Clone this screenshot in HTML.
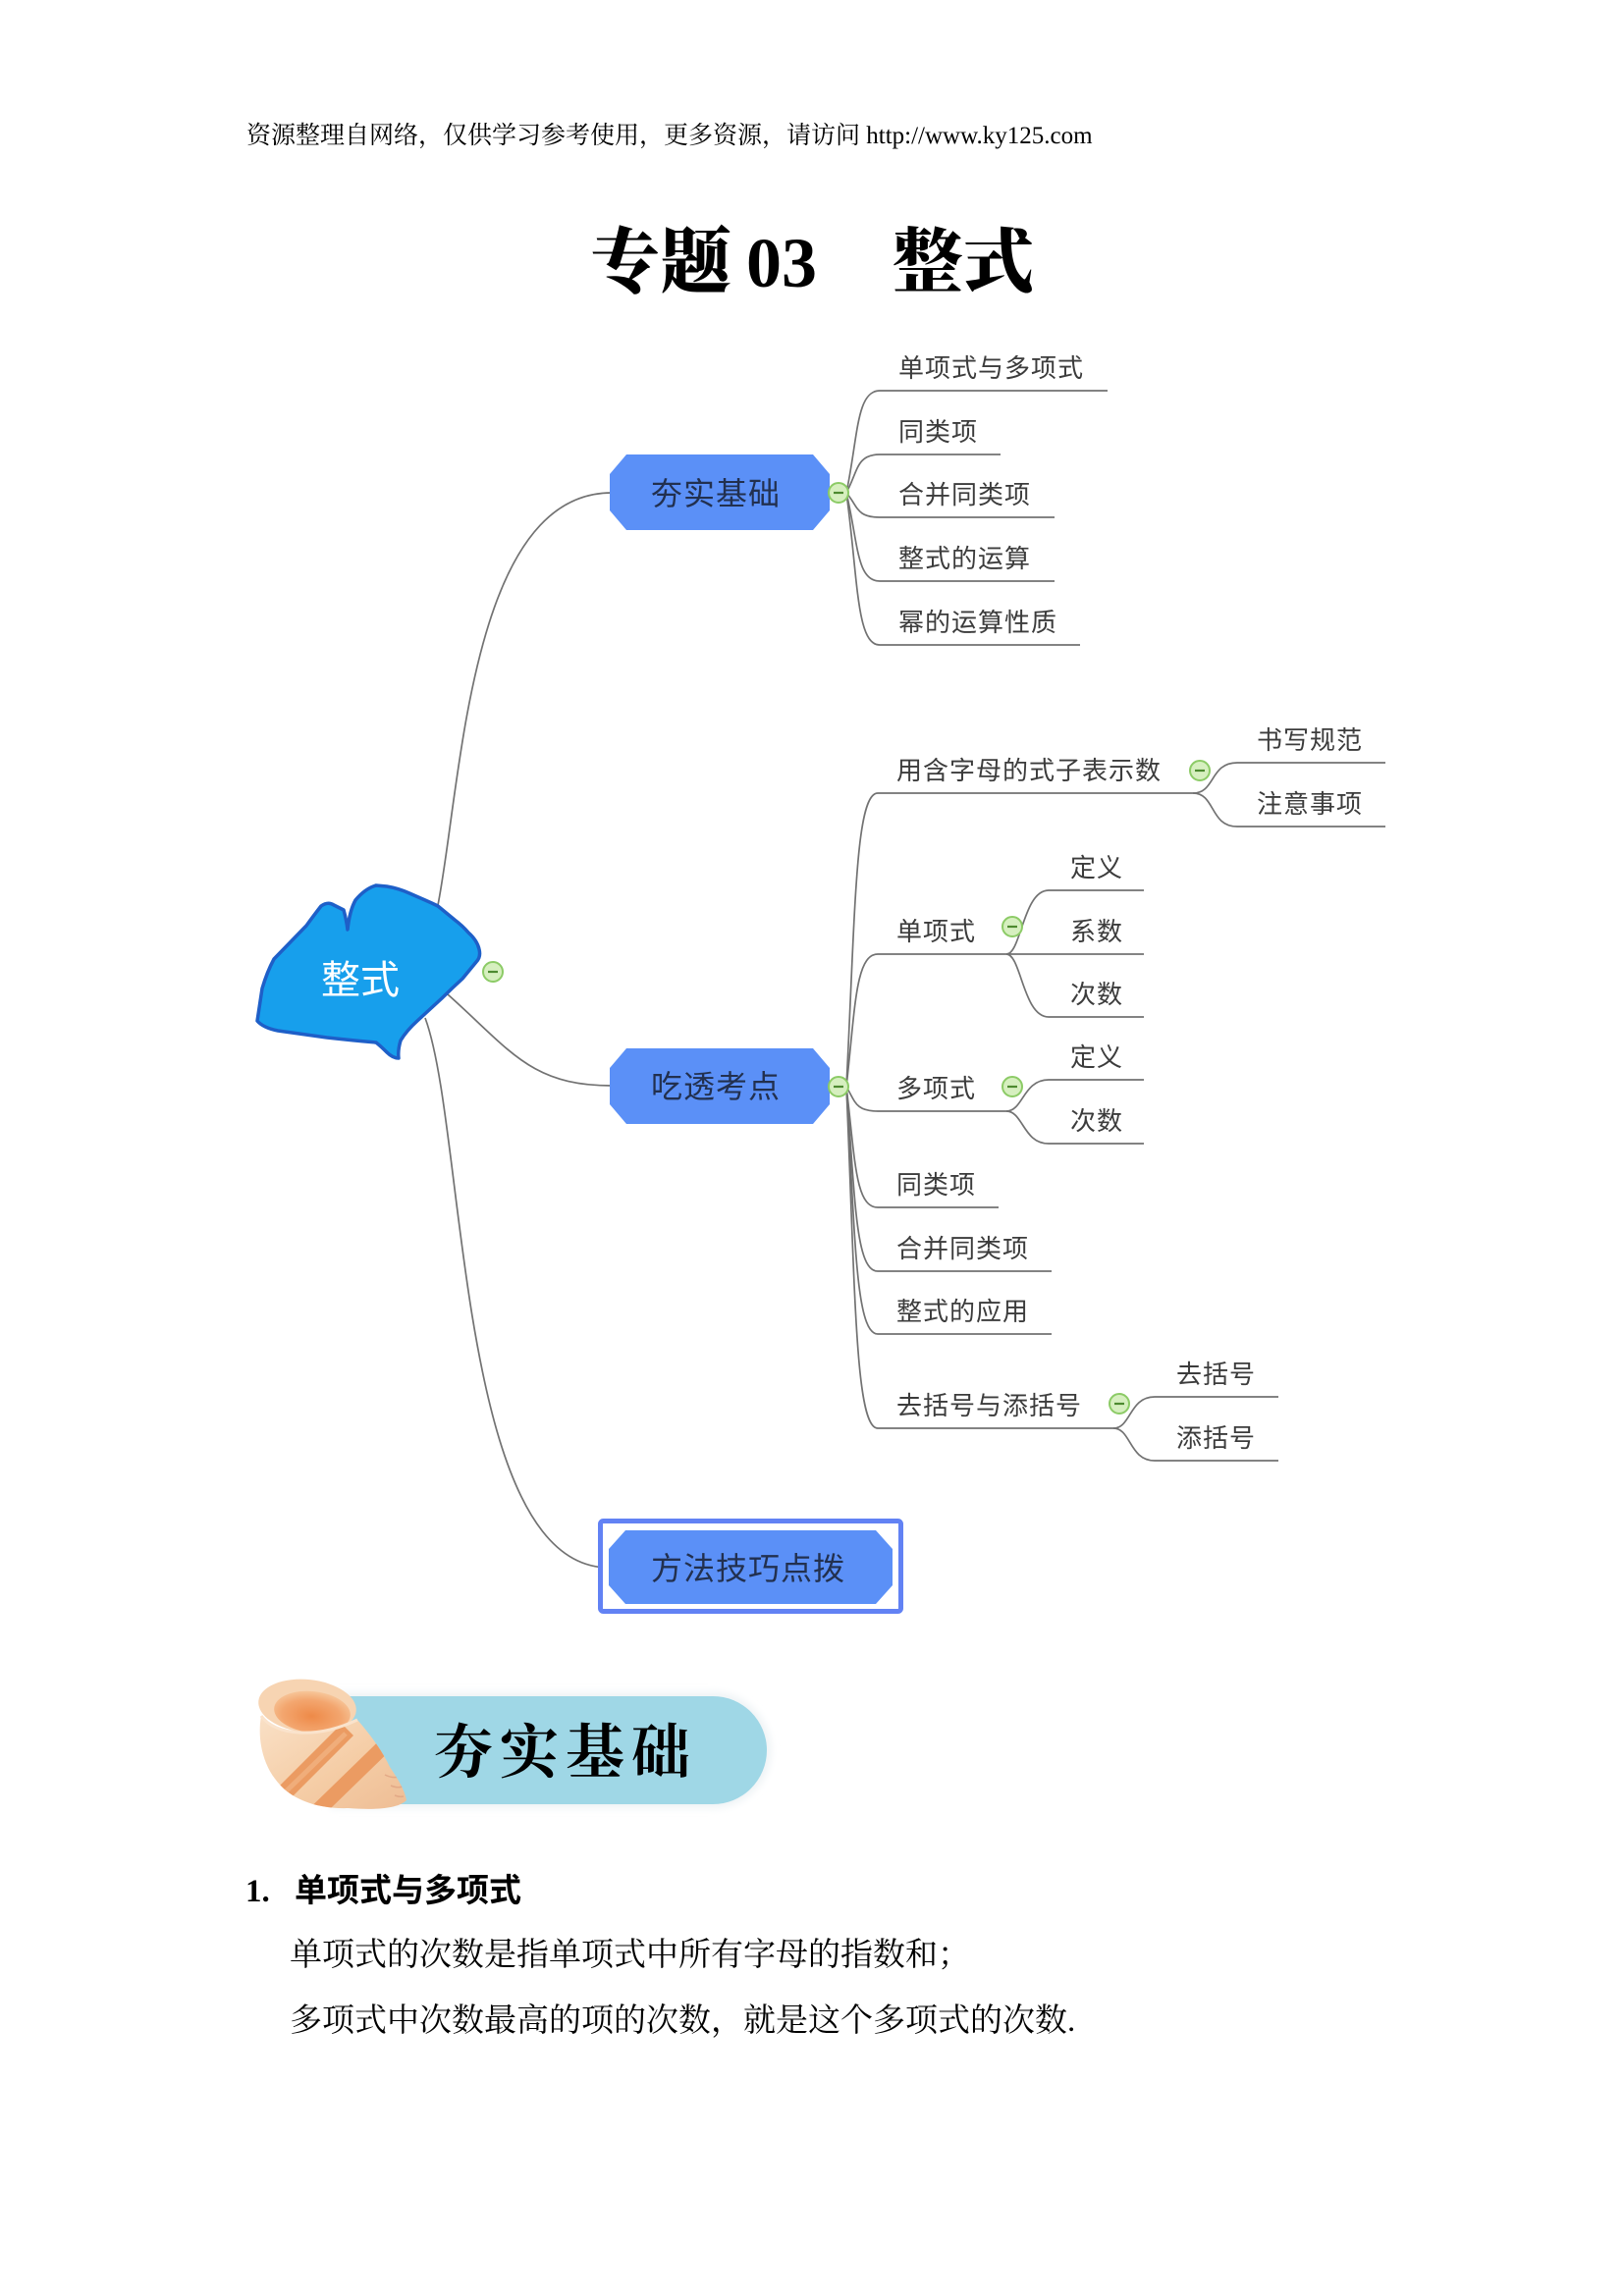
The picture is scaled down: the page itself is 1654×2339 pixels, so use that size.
<!DOCTYPE html>
<html>
<head>
<meta charset="utf-8">
<style>
html,body{margin:0;padding:0;background:#fff;}
svg{display:block;}
.leaf{font-family:"Noto Sans CJK SC","WenQuanYi Zen Hei",sans-serif;font-size:26px;fill:#3c3c3c;letter-spacing:1px;}
.main{font-family:"Noto Sans CJK SC","WenQuanYi Zen Hei",sans-serif;font-size:32px;fill:#22304f;letter-spacing:1px;}
.ln{fill:none;stroke:#727272;stroke-width:1.7;}
.body{font-family:"Liberation Serif","Noto Serif CJK SC",serif;font-size:33px;fill:#000;}
</style>
</head>
<body>
<svg width="1654" height="2339" viewBox="0 0 1654 2339" xmlns="http://www.w3.org/2000/svg">
<defs>
  <radialGradient id="op" cx="50%" cy="60%" r="60%">
    <stop offset="0" stop-color="#ee8a48"/>
    <stop offset="0.65" stop-color="#f3a66f"/>
    <stop offset="1" stop-color="#f7c69a"/>
  </radialGradient>
  <linearGradient id="shb" x1="0" y1="0" x2="1" y2="1">
    <stop offset="0" stop-color="#f9e0c6"/>
    <stop offset="0.55" stop-color="#f5cda6"/>
    <stop offset="1" stop-color="#eebd95"/>
  </linearGradient>
  <clipPath id="shclip">
    <path d="M 266 1748 C 280 1768, 322 1772, 364 1752 C 378 1768, 390 1785, 397 1800 C 405 1812, 412 1823, 414 1834 C 405 1843, 380 1844, 355 1842 C 322 1843, 295 1833, 280 1812 C 267 1795, 262 1770, 266 1748 Z"/>
  </clipPath>
  <filter id="glow" x="-10%" y="-30%" width="120%" height="160%">
    <feGaussianBlur stdDeviation="4"/>
  </filter>
</defs>

<!-- Header -->
<text x="251" y="146" font-family="Liberation Serif, Noto Serif CJK SC, serif" font-size="25" fill="#000">资源整理自网络，仅供学习参考使用，更多资源，请访问 http://www.ky125.com</text>

<!-- Title -->
<text x="601" y="292" font-family="Noto Serif CJK SC, serif" font-weight="900" font-size="72" fill="#000">专题</text>
<text x="760" y="292" font-family="Liberation Serif, serif" font-weight="bold" font-size="72" fill="#000">03</text>
<text x="909" y="292" font-family="Noto Serif CJK SC, serif" font-weight="900" font-size="72" fill="#000">整式</text>

<!-- ===== Mind map connectors ===== -->
<path class="ln" d="M 446 922 C 470 800, 478 502, 623 502"/>
<path class="ln" d="M 456 1013 C 520 1070, 540 1106, 623 1106"/>
<path class="ln" d="M 433 1037 C 475 1150, 465 1597, 620 1597"/>

<!-- 夯实基础 children -->
<path class="ln" d="M 862 502 C 874 445, 872 398, 896 398 L 1128 398"/>
<path class="ln" d="M 862 502 C 874 480, 872 463, 896 463 L 1019 463"/>
<path class="ln" d="M 862 502 C 874 516, 872 527, 896 527 L 1074 527"/>
<path class="ln" d="M 862 502 C 874 552, 872 592, 896 592 L 1074 592"/>
<path class="ln" d="M 862 502 C 874 590, 872 657, 896 657 L 1100 657"/>

<!-- 吃透考点 children -->
<path class="ln" d="M 862 1107 C 871 930, 871 808, 894 808 L 1215 808"/>
<path class="ln" d="M 862 1107 C 871 1028, 871 972, 894 972 L 1025 972"/>
<path class="ln" d="M 862 1107 C 871 1122, 871 1132, 894 1132 L 1025 1132"/>
<path class="ln" d="M 862 1107 C 871 1182, 871 1230, 894 1230 L 1017 1230"/>
<path class="ln" d="M 862 1107 C 871 1220, 871 1295, 894 1295 L 1071 1295"/>
<path class="ln" d="M 862 1107 C 871 1258, 871 1359, 894 1359 L 1071 1359"/>
<path class="ln" d="M 862 1107 C 871 1316, 871 1455, 894 1455 L 1134 1455"/>

<!-- sub branches -->
<path class="ln" d="M 1215 808 C 1238 808, 1232 777, 1260 777 L 1411 777"/>
<path class="ln" d="M 1215 808 C 1238 808, 1232 842, 1260 842 L 1411 842"/>

<path class="ln" d="M 1025 972 C 1040 972, 1042 907, 1068 907 L 1165 907"/>
<path class="ln" d="M 1025 972 L 1165 972"/>
<path class="ln" d="M 1025 972 C 1040 972, 1042 1036, 1068 1036 L 1165 1036"/>

<path class="ln" d="M 1025 1132 C 1042 1132, 1042 1100, 1068 1100 L 1165 1100"/>
<path class="ln" d="M 1025 1132 C 1042 1132, 1042 1165, 1068 1165 L 1165 1165"/>

<path class="ln" d="M 1134 1455 C 1152 1455, 1150 1423, 1176 1423 L 1302 1423"/>
<path class="ln" d="M 1134 1455 C 1152 1455, 1150 1488, 1176 1488 L 1302 1488"/>

<!-- ===== Nodes ===== -->
<path d="M 262 1040 L 267 1007 Q 272 990 279 977 L 312 943 Q 320 932 327 923 Q 334 918 340 922 L 350 927 Q 353 938 354 947 Q 356 928 362 917 Q 372 905 383 902 L 394 903 Q 406 905 417 910 L 433 917 Q 440 920 446 923 L 463 937 Q 471 943 477 950 Q 486 958 488 967 Q 490 975 485 980 L 471 997 Q 460 1007 450 1017 L 425 1040 Q 414 1050 408 1060 Q 405 1070 406 1078 Q 400 1078 394 1072 Q 388 1066 383 1062 Q 360 1060 333 1057 L 283 1050 Q 268 1047 262 1040 Z" fill="#179fec" stroke="#1e5fc8" stroke-width="3.5" stroke-linejoin="round"/>
<text x="367" y="1012" text-anchor="middle" font-family="Noto Sans CJK SC, sans-serif" font-size="40" fill="#ffffff">整式</text>

<polygon points="638,463 828,463 845,483 845,520 828,540 638,540 621,520 621,483" fill="#5b90f7"/>
<text class="main" x="729" y="514" text-anchor="middle">夯实基础</text>

<polygon points="638,1068 828,1068 845,1088 845,1125 828,1145 638,1145 621,1125 621,1088" fill="#5b90f7"/>
<text class="main" x="729" y="1118" text-anchor="middle">吃透考点</text>

<rect x="611.5" y="1549.5" width="306" height="92" rx="3" fill="#ffffff" stroke="#6282f4" stroke-width="5"/>
<polygon points="637,1559 892,1559 909,1578 909,1615 892,1634 637,1634 620,1615 620,1578" fill="#5b90f7"/>
<text class="main" x="762" y="1609" text-anchor="middle">方法技巧点拨</text>

<!-- collapse circles -->
<g fill="#d6efbf" stroke="#8ccb66" stroke-width="2">
  <circle cx="502" cy="990" r="10"/>
  <circle cx="854" cy="502" r="10"/>
  <circle cx="854" cy="1107" r="10"/>
  <circle cx="1222" cy="785" r="10"/>
  <circle cx="1031" cy="944" r="10"/>
  <circle cx="1031" cy="1107" r="10"/>
  <circle cx="1140" cy="1430" r="10"/>
</g>
<g stroke="#4d8a30" stroke-width="2.2">
  <line x1="497" y1="990" x2="507" y2="990"/>
  <line x1="849" y1="502" x2="859" y2="502"/>
  <line x1="849" y1="1107" x2="859" y2="1107"/>
  <line x1="1217" y1="785" x2="1227" y2="785"/>
  <line x1="1026" y1="944" x2="1036" y2="944"/>
  <line x1="1026" y1="1107" x2="1036" y2="1107"/>
  <line x1="1135" y1="1430" x2="1145" y2="1430"/>
</g>

<!-- leaf labels: 夯实基础 -->
<text class="leaf" x="915" y="384">单项式与多项式</text>
<text class="leaf" x="915" y="449">同类项</text>
<text class="leaf" x="915" y="513">合并同类项</text>
<text class="leaf" x="915" y="578">整式的运算</text>
<text class="leaf" x="915" y="643">幂的运算性质</text>

<!-- leaf labels: 吃透考点 -->
<text class="leaf" x="913" y="794">用含字母的式子表示数</text>
<text class="leaf" x="1280" y="763">书写规范</text>
<text class="leaf" x="1280" y="828">注意事项</text>

<text class="leaf" x="913" y="958">单项式</text>
<text class="leaf" x="1090" y="893">定义</text>
<text class="leaf" x="1090" y="958">系数</text>
<text class="leaf" x="1090" y="1022">次数</text>

<text class="leaf" x="913" y="1118">多项式</text>
<text class="leaf" x="1090" y="1086">定义</text>
<text class="leaf" x="1090" y="1151">次数</text>

<text class="leaf" x="913" y="1216">同类项</text>
<text class="leaf" x="913" y="1281">合并同类项</text>
<text class="leaf" x="913" y="1345">整式的应用</text>

<text class="leaf" x="913" y="1441">去括号与添括号</text>
<text class="leaf" x="1198" y="1409">去括号</text>
<text class="leaf" x="1198" y="1474">添括号</text>

<!-- ===== Banner ===== -->
<path d="M 336 1724 H 726 A 59 59 0 0 1 726 1842 H 336 Z" fill="#eef3f5" filter="url(#glow)"/>
<path d="M 340 1728 H 726 A 55 55 0 0 1 726 1838 H 340 Z" fill="#9fd7e6"/>
<text x="442" y="1806" font-family="Noto Serif CJK SC, serif" font-weight="700" font-size="60" fill="#000">夯</text>
<text x="509" y="1806" font-family="Noto Serif CJK SC, serif" font-weight="700" font-size="60" fill="#000">实</text>
<text x="576" y="1806" font-family="Noto Serif CJK SC, serif" font-weight="700" font-size="60" fill="#000">基</text>
<text x="643" y="1806" font-family="Noto Serif CJK SC, serif" font-weight="700" font-size="60" fill="#000">础</text>

<!-- shell -->
<ellipse cx="313" cy="1738" rx="50" ry="27" transform="rotate(6 313 1738)" fill="#f7d4b2"/>
<ellipse cx="318" cy="1744" rx="39" ry="21" transform="rotate(6 318 1744)" fill="url(#op)"/>
<path d="M 266 1748 C 280 1768, 322 1772, 364 1752 C 378 1768, 390 1785, 397 1800 C 405 1812, 412 1823, 414 1834 C 405 1843, 380 1844, 355 1842 C 322 1843, 295 1833, 280 1812 C 267 1795, 262 1770, 266 1748 Z" fill="url(#shb)"/>
<g clip-path="url(#shclip)">
  <line x1="280" y1="1836" x2="354" y2="1762" stroke="#eb9b62" stroke-width="17"/>
  <line x1="318" y1="1850" x2="390" y2="1780" stroke="#eb9b62" stroke-width="15"/>
  <line x1="284" y1="1832" x2="352" y2="1766" stroke="#f0ad7a" stroke-width="5"/>
  <path d="M 392 1808 q 8 4 14 2 M 398 1819 q 7 3 12 1 M 402 1829 q 5 2 9 1" fill="none" stroke="#e3a986" stroke-width="1.5"/>
</g>
<path d="M 266 1748 C 280 1768, 322 1772, 364 1752" fill="none" stroke="#fae3cc" stroke-width="3"/>

<!-- ===== Body ===== -->
<text x="250" y="1937" font-family="Liberation Serif, serif" font-weight="bold" font-size="33" fill="#000">1.</text>
<text x="300" y="1937" font-family="Noto Sans CJK SC, sans-serif" font-weight="700" font-size="33" fill="#000">单项式与多项式</text>
<text class="body" x="295" y="2002">单项式的次数是指单项式中所有字母的指数和；</text>
<text class="body" x="295" y="2069">多项式中次数最高的项的次数，就是这个多项式的次数.</text>
</svg>
</body>
</html>
